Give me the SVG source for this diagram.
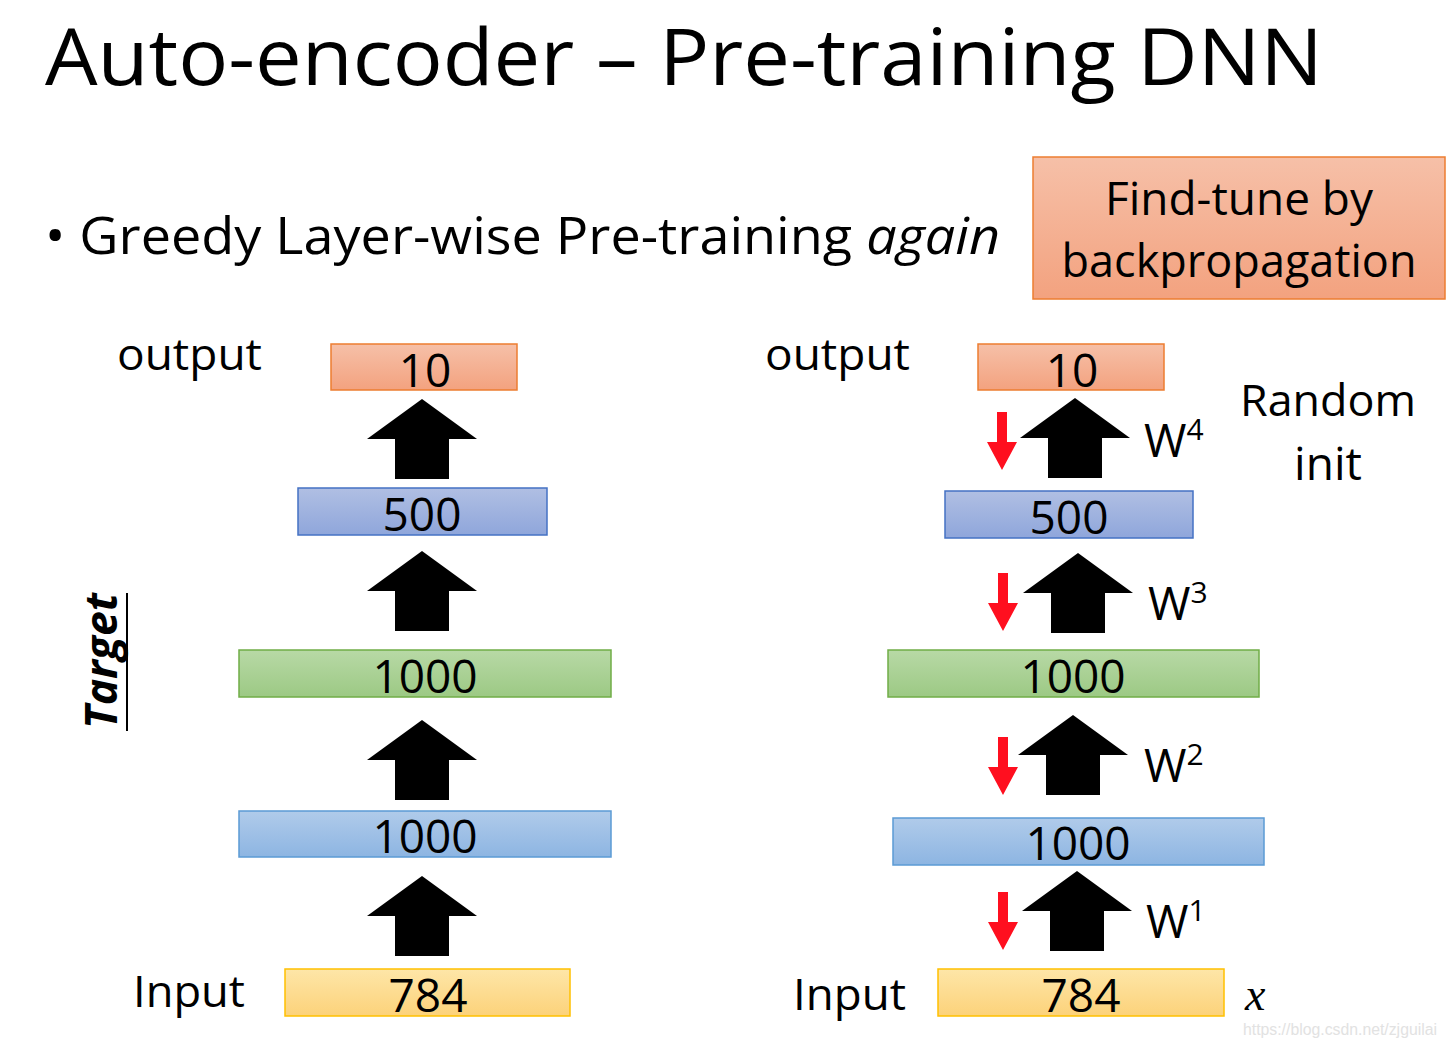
<svg xmlns="http://www.w3.org/2000/svg" width="1446" height="1048" viewBox="0 0 1446 1048">
<defs>
<linearGradient id="gOr" x1="0" y1="0" x2="0" y2="1"><stop offset="0" stop-color="#f6c0a8"/><stop offset="1" stop-color="#f3a27f"/></linearGradient>
<linearGradient id="gPu" x1="0" y1="0" x2="0" y2="1"><stop offset="0" stop-color="#b0bfe3"/><stop offset="1" stop-color="#8fa6db"/></linearGradient>
<linearGradient id="gGr" x1="0" y1="0" x2="0" y2="1"><stop offset="0" stop-color="#b8d9a6"/><stop offset="1" stop-color="#9cc984"/></linearGradient>
<linearGradient id="gBl" x1="0" y1="0" x2="0" y2="1"><stop offset="0" stop-color="#b0cbea"/><stop offset="1" stop-color="#8db5e2"/></linearGradient>
<linearGradient id="gYe" x1="0" y1="0" x2="0" y2="1"><stop offset="0" stop-color="#fee6a8"/><stop offset="1" stop-color="#fcd27a"/></linearGradient>
<path id="up" d="M0,0 L55,40 L27,40 L27,80 L-27,80 L-27,40 L-55,40 Z"/>
<path id="red" d="M-5,0 L5,0 L5,30 L15,30 L0,58 L-15,30 L-5,30 Z"/>
</defs>
<style>
text{font-family:"Open Sans","Noto Sans","Liberation Sans",sans-serif;fill:#000}
text.xs{font-family:"Liberation Serif",serif;font-style:italic;font-size:46px}
text.wm{font-family:"Liberation Sans",sans-serif;font-size:16px;fill:#e2e2e2}
.t{font-size:78px}
.b{font-size:52px}
.l{font-size:44px}
.n{font-size:46px;text-anchor:middle}
.w{font-size:46px}
.s{font-size:30px}
.or{fill:url(#gOr);stroke:#ed7d31;stroke-width:1.5}
.pu{fill:url(#gPu);stroke:#4472c4;stroke-width:1.5}
.gr{fill:url(#gGr);stroke:#70ad47;stroke-width:1.5}
.bl{fill:url(#gBl);stroke:#5b9bd5;stroke-width:1.5}
.ye{fill:url(#gYe);stroke:#ffc000;stroke-width:1.5}
.ar{fill:#000}
.rd{fill:#ff0f1f}
</style>
<g id="title"><text class="t" x="45" y="85" textLength="1278" lengthAdjust="spacingAndGlyphs">Auto-encoder – Pre-training DNN</text></g>
<g id="bullet"><text class="b" x="45" y="254" textLength="955" lengthAdjust="spacingAndGlyphs">• Greedy Layer-wise Pre-training <tspan font-style="italic">again</tspan></text></g>
<g id="finetune">
<rect x="1033" y="157" width="412" height="142" fill="url(#gOr)" stroke="#ed7d31" stroke-width="1.5"/>
<text class="n" x="1239" y="215" textLength="268" lengthAdjust="spacingAndGlyphs">Find-tune by</text>
<text class="n" x="1239" y="277" textLength="355" lengthAdjust="spacingAndGlyphs">backpropagation</text>
</g>
<g id="left-labels">
<text class="l" x="117" y="370" textLength="145" lengthAdjust="spacingAndGlyphs">output</text>
<text class="l" x="133" y="1007" textLength="112" lengthAdjust="spacingAndGlyphs">Input</text>
<g id="target"><text transform="translate(117,729) rotate(-90)" font-size="44" font-weight="bold" font-style="italic" textLength="136" lengthAdjust="spacingAndGlyphs">Target</text>
<line x1="127" y1="593" x2="127" y2="731" stroke="#000" stroke-width="2"/></g>
</g>
<g id="L10"><rect class="or" x="331" y="344" width="186" height="46"/><text class="n" x="425" y="387">10</text></g>
<g id="L500"><rect class="pu" x="298" y="488" width="249" height="47"/><text class="n" x="422" y="531">500</text></g>
<g id="L1000a"><rect class="gr" x="239" y="650" width="372" height="47"/><text class="n" x="425" y="693">1000</text></g>
<g id="L1000b"><rect class="bl" x="239" y="811" width="372" height="46"/><text class="n" x="425" y="853">1000</text></g>
<g id="L784"><rect class="ye" x="285" y="969" width="285" height="47"/><text class="n" x="428" y="1012">784</text></g>
<g id="right-labels">
<text class="l" x="765" y="370" textLength="145" lengthAdjust="spacingAndGlyphs">output</text>
<text class="l" x="793" y="1010" textLength="113" lengthAdjust="spacingAndGlyphs">Input</text>
<text class="l" x="1240" y="416" textLength="176" lengthAdjust="spacingAndGlyphs">Random</text>
<text class="n" x="1328" y="480">init</text>
<text class="xs" x="1245" y="1010">x</text>
<text class="wm" x="1243" y="1035" textLength="194" lengthAdjust="spacingAndGlyphs">https://blog.csdn.net/zjguilai</text>
</g>
<g id="R10"><rect class="or" x="978" y="344" width="186" height="46"/><text class="n" x="1072" y="387">10</text></g>
<g id="R500"><rect class="pu" x="945" y="491" width="248" height="47"/><text class="n" x="1069" y="534">500</text></g>
<g id="R1000a"><rect class="gr" x="888" y="650" width="371" height="47"/><text class="n" x="1073" y="693">1000</text></g>
<g id="R1000b"><rect class="bl" x="893" y="818" width="371" height="47"/><text class="n" x="1078" y="860">1000</text></g>
<g id="R784"><rect class="ye" x="938" y="969" width="286" height="47"/><text class="n" x="1081" y="1012">784</text></g>
<g id="connectors">
<use href="#up" class="ar" x="422" y="399"/>
<use href="#up" class="ar" x="422" y="551"/>
<use href="#up" class="ar" x="422" y="720"/>
<use href="#up" class="ar" x="422" y="876"/>
<use href="#up" class="ar" x="1075" y="398"/>
<use href="#up" class="ar" x="1078" y="553"/>
<use href="#up" class="ar" x="1073" y="715"/>
<use href="#up" class="ar" x="1077" y="871"/>
<use href="#red" class="rd" x="1002" y="412"/>
<use href="#red" class="rd" x="1003" y="573"/>
<use href="#red" class="rd" x="1003" y="737"/>
<use href="#red" class="rd" x="1003" y="892"/>
</g>
<g id="weights">
<text class="w" x="1144" y="457">W<tspan class="s" dy="-17">4</tspan></text>
<text class="w" x="1148" y="620">W<tspan class="s" dy="-17">3</tspan></text>
<text class="w" x="1144" y="782">W<tspan class="s" dy="-17">2</tspan></text>
<text class="w" x="1146" y="938">W<tspan class="s" dy="-17">1</tspan></text>
</g>
</svg>
